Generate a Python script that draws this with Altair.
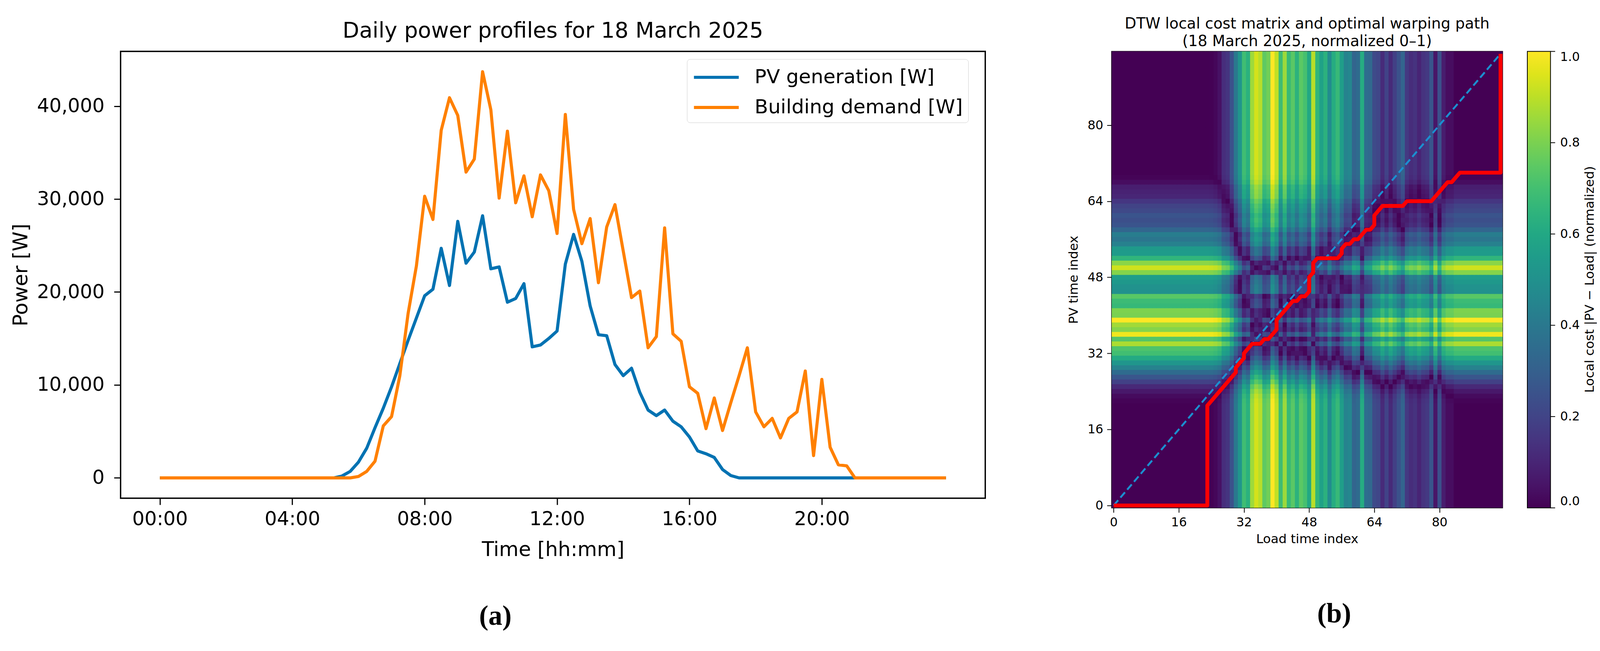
import altair as alt
import numpy as np
import pandas as pd

# 15-minute samples for 18 March 2025
pv_w = [0] * 22 + [
    200, 700, 1700, 3200, 5400, 7500, 9800, 12300, 14800, 17200,
    19600, 20300, 24700, 20700, 27600, 23100, 24300, 28200, 22500, 22700,
    18900, 19300, 20900, 14100, 14300, 15000, 15800, 23000, 26200, 23300,
    18500, 15400, 15300, 12200, 11000, 11800, 9200, 7300, 6700, 7300,
    6100, 5500, 4400, 2900, 2600, 2200, 900, 250,
] + [0] * 26

load_w = [0] * 24 + [
    150, 700, 1800, 5600, 6600, 11000, 17700, 22800,
    30300, 27800, 37400, 40900, 39000, 32900, 34300, 43700, 39600, 30100,
    37300, 29600, 32500, 28100, 32600, 30900, 26300, 39100, 28900, 25200,
    27900, 21000, 27000, 29400, 24400, 19400, 20100, 14000, 15200, 26900,
    15500, 14700, 9800, 9100, 5300, 8600, 5100, 8100, 11000, 14000,
    7100, 5500, 6400, 4300, 6400, 7100, 11500, 2400, 10600, 3300,
    1400, 1300,
] + [0] * 12

series_names = ["PV generation [W]", "Building demand [W]"]
series_colors = ["#0072B2", "#FF8000"]
hour_ticks = [0, 4, 8, 12, 16, 20]
power_ticks = [0, 10000, 20000, 30000, 40000]
index_ticks = [0, 16, 32, 48, 64, 80]
cbar_ticks = [0.0, 0.2, 0.4, 0.6, 0.8, 1.0]

FONT = "DejaVu Sans"
n = len(pv_w)
hours = np.arange(n) / 4.0

# ---- panel (a): daily profiles ----
prof = pd.concat([
    pd.DataFrame({"hour": hours, "power": pv_w, "series": series_names[0]}),
    pd.DataFrame({"hour": hours, "power": load_w, "series": series_names[1]}),
])

ymax = max(max(pv_w), max(load_w))
ypad = 0.05 * ymax
xpad = 0.05 * hours[-1]

lines = alt.Chart(prof).mark_line(strokeWidth=8, strokeJoin="round").encode(
    x=alt.X("hour:Q",
            scale=alt.Scale(domain=[-xpad, hours[-1] + xpad], nice=False, zero=False),
            axis=alt.Axis(values=hour_ticks, title="Time [hh:mm]",
                          labelExpr="(datum.value < 10 ? '0' : '') + datum.value + ':00'",
                          grid=False, domain=False, tickSize=17, tickWidth=3, tickColor="black",
                          labelFontSize=50, labelFont=FONT, labelColor="black", labelPadding=12,
                          titleFontSize=52, titleFont=FONT, titleFontWeight="normal",
                          titleColor="black", titlePadding=29)),
    y=alt.Y("power:Q",
            scale=alt.Scale(domain=[-ypad, ymax + ypad], nice=False, zero=False),
            axis=alt.Axis(values=power_ticks, format=",d", title="Power [W]",
                          grid=False, domain=False, tickSize=17, tickWidth=3, tickColor="black",
                          labelFontSize=50, labelFont=FONT, labelColor="black", labelPadding=25,
                          titleFontSize=52, titleFont=FONT, titleFontWeight="normal",
                          titleColor="black", titlePadding=31)),
    color=alt.Color("series:N",
                    scale=alt.Scale(domain=series_names, range=series_colors),
                    legend=alt.Legend(title=None, orient="none", legendX=1466, legendY=20,
                                      symbolType="M-1,0H3", symbolSize=3364, symbolStrokeWidth=8,
                                      labelFontSize=51, labelFont=FONT, labelColor="black",
                                      labelOffset=95, labelLimit=0, padding=14, rowPadding=20,
                                      strokeColor="#cccccc", cornerRadius=8, fillColor="white")),
    order="hour:Q",
)

label_a = alt.Chart(alt.Data(values=[{"t": "(a)"}])).mark_text(
    font="Liberation Serif", fontSize=72, fontWeight="bold", color="black", baseline="middle"
).encode(x=alt.value(970), y=alt.value(1462), text="t:N")

left = alt.layer(lines, label_a).properties(
    width=2238, height=1156,
    title=alt.TitleParams("Daily power profiles for 18 March 2025", fontSize=56, font=FONT,
                          fontWeight="normal", color="black", offset=24),
    view=alt.ViewBackground(stroke="black", strokeWidth=3.5),
)

# ---- panel (b): DTW local cost matrix on max-normalised profiles ----
pv_n = np.array(pv_w, dtype=float) / max(pv_w)
ld_n = np.array(load_w, dtype=float) / max(load_w)
cost = np.abs(pv_n[:, None] - ld_n[None, :])   # rows: PV index, cols: load index

acc = np.full((n + 1, n + 1), np.inf)
acc[0, 0] = 0.0
for i in range(1, n + 1):
    for j in range(1, n + 1):
        acc[i, j] = cost[i - 1, j - 1] + min(acc[i - 1, j], acc[i, j - 1], acc[i - 1, j - 1])

i, j = n, n
path = [(i - 1, j - 1)]
while i > 1 or j > 1:
    if i == 1:
        j -= 1
    elif j == 1:
        i -= 1
    else:
        steps = [(i - 1, j), (i - 1, j - 1), (i, j - 1)]
        i, j = min(steps, key=lambda s: acc[s])
    path.append((i - 1, j - 1))
path = path[::-1]
path_df = pd.DataFrame({"step": range(len(path)),
                        "lx": [p[1] for p in path], "py": [p[0] for p in path]})

# cells overlap their neighbour by a hair so no white seams show between them
ii, jj = np.meshgrid(np.arange(n), np.arange(n), indexing="ij")
cells = pd.DataFrame({
    "lx": jj.ravel() - 0.5, "lx2": jj.ravel() + 0.58,
    "py": ii.ravel() - 0.5, "py2": ii.ravel() + 0.58,
    "cost": np.round(cost.ravel(), 4),
})

idx_scale = alt.Scale(domain=[-0.5, n - 0.5], nice=False, zero=False)
ax_common = dict(grid=False, domain=False, tickSize=12, tickWidth=2, tickColor="black",
                 labelFontSize=32, labelFont=FONT, labelColor="black", labelPadding=10,
                 titleFontSize=33, titleFont=FONT, titleFontWeight="normal", titleColor="black")

CBAR_OFFSET, CBAR_W = 64, 60

heat = alt.Chart(cells).mark_rect(clip=True).encode(
    x=alt.X("lx:Q", scale=idx_scale,
            axis=alt.Axis(values=index_ticks, title="Load time index", titlePadding=12, **ax_common)),
    x2="lx2:Q",
    y=alt.Y("py:Q", scale=idx_scale,
            axis=alt.Axis(values=index_ticks, title="PV time index", titlePadding=18, **ax_common)),
    y2="py2:Q",
    color=alt.Color("cost:Q", scale=alt.Scale(scheme="viridis", domain=[0, 1]),
                    legend=alt.Legend(type="gradient", title=None,
                                      orient="right", offset=CBAR_OFFSET, direction="vertical",
                                      gradientLength=1181, gradientThickness=CBAR_W,
                                      gradientStrokeColor="black", gradientStrokeWidth=2,
                                      values=cbar_ticks, format=".1f", labelOverlap=False,
                                      labelFontSize=32, labelFont=FONT, labelColor="black",
                                      labelOffset=25, labelBaseline="middle", labelLimit=0,
                                      padding=0)),
)

diag = alt.Chart(alt.Data(values=[{"lx": 0, "py": 0}, {"lx": n - 1, "py": n - 1}])).mark_line(
    color="#1b8fd0", strokeWidth=5, strokeDash=[18, 9]
).encode(x=alt.X("lx:Q", scale=idx_scale), y=alt.Y("py:Q", scale=idx_scale))

warp = alt.Chart(path_df).mark_line(color="#ff0000", strokeWidth=10, strokeJoin="round").encode(
    x=alt.X("lx:Q", scale=idx_scale), y=alt.Y("py:Q", scale=idx_scale), order="step:Q"
)

# colour-bar tick marks: the bar spans the same height as the matrix
cbar_tick_df = pd.DataFrame({"py": [-0.5 + v * n for v in cbar_ticks]})
cbar_tickmarks = alt.Chart(cbar_tick_df).mark_rule(color="black", strokeWidth=2).encode(
    x=alt.value(1012 + CBAR_OFFSET + CBAR_W), x2=alt.value(1012 + CBAR_OFFSET + CBAR_W + 12),
    y=alt.Y("py:Q", scale=idx_scale),
)

label_b = alt.Chart(alt.Data(values=[{"t": "(b)"}])).mark_text(
    font="Liberation Serif", fontSize=72, fontWeight="bold", color="black", baseline="middle"
).encode(x=alt.value(576), y=alt.value(1456), text="t:N")

cbar_title = alt.Chart(alt.Data(values=[{"t": "Local cost |PV \u2212 Load| (normalized)"}])).mark_text(
    font=FONT, fontSize=33, color="black", angle=270, align="center", baseline="middle"
).encode(x=alt.value(1238), y=alt.value(590), text="t:N")

right = alt.layer(heat, diag, warp, cbar_tickmarks, label_b, cbar_title).properties(
    width=1012, height=1181,
    title=alt.TitleParams(["DTW local cost matrix and optimal warping path",
                           "(18 March 2025, normalized 0\u20131)"],
                          fontSize=39, lineHeight=45, font=FONT, fontWeight="normal",
                          color="black", offset=2),
    view=alt.ViewBackground(stroke="black", strokeWidth=2),
)

chart = alt.hconcat(left, right, spacing=210).resolve_scale(color="independent").properties(
    padding={"left": 18, "top": 25, "right": 0, "bottom": 5},
    background="white",
).configure(font=FONT).configure_legend(
    gradientVerticalMaxLength=1200, gradientVerticalMinLength=100
)

chart.save("out.html", embed_options={"renderer": "svg", "actions": False})
